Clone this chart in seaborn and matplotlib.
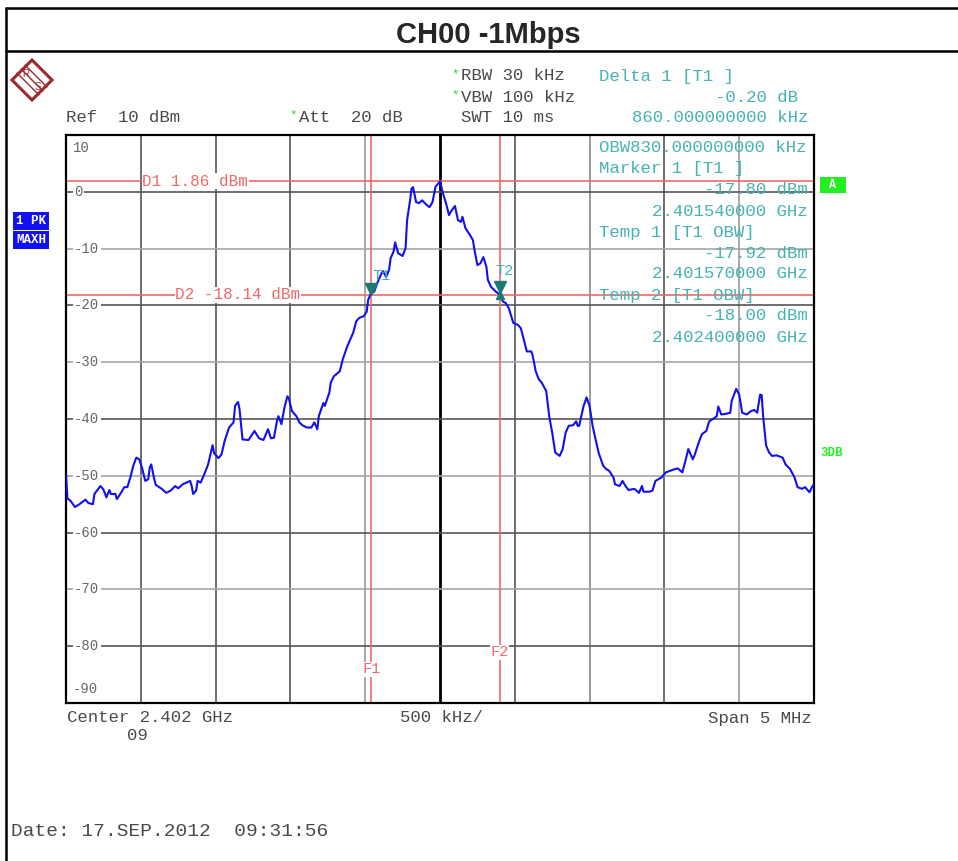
import numpy as np
import pandas as pd
import matplotlib
matplotlib.use('Agg')
import matplotlib.pyplot as plt
import seaborn as sns
from matplotlib.patches import Polygon
from matplotlib.lines import Line2D

sns.set_style('white')
plt.rcParams['font.family'] = ['Liberation Mono', 'DejaVu Sans Mono']

# analyzer settings
center_ghz = 2.402
span_mhz = 5.0
ref_dbm = 10
y_bottom = -90

# trace (frequency offset from center in MHz, level in dBm)
freq_mhz = [-2.50, -2.49, -2.47, -2.44, -2.41, -2.37, -2.35, -2.32, -2.31, -2.27,
            -2.25, -2.23, -2.21, -2.20, -2.17, -2.16, -2.13, -2.11, -2.09, -2.07,
            -2.05, -2.03, -2.01, -1.99, -1.97, -1.95, -1.94, -1.93, -1.91, -1.90,
            -1.86, -1.83, -1.80, -1.77, -1.75, -1.72, -1.67, -1.66, -1.65, -1.63,
            -1.62, -1.60, -1.58, -1.55, -1.52, -1.51, -1.48, -1.46, -1.44, -1.41,
            -1.38, -1.37, -1.35, -1.34, -1.32, -1.28, -1.24, -1.21, -1.18, -1.15,
            -1.13, -1.11, -1.09, -1.08, -1.06, -1.04, -1.02, -1.01, -0.99, -0.96,
            -0.94, -0.92, -0.89, -0.86, -0.84, -0.82, -0.81, -0.78, -0.77, -0.74,
            -0.73, -0.71, -0.67, -0.65, -0.62, -0.58, -0.56, -0.54, -0.51, -0.49,
            -0.48, -0.46, -0.44, -0.42, -0.39, -0.38, -0.36, -0.34, -0.33, -0.31,
            -0.30, -0.28, -0.25, -0.23, -0.22, -0.20, -0.19, -0.18, -0.16, -0.14,
            -0.12, -0.09, -0.07, -0.05, -0.03, 0.00, 0.02, 0.04, 0.06, 0.08,
            0.10, 0.12, 0.14, 0.15, 0.17, 0.20, 0.22, 0.23, 0.25, 0.27,
            0.29, 0.31, 0.32, 0.34, 0.37, 0.40, 0.42, 0.44, 0.46, 0.49,
            0.52, 0.54, 0.56, 0.58, 0.61, 0.62, 0.64, 0.66, 0.68, 0.71,
            0.73, 0.75, 0.77, 0.80, 0.82, 0.84, 0.86, 0.89, 0.91, 0.92,
            0.93, 0.96, 0.98, 1.00, 1.02, 1.04, 1.06, 1.09, 1.11, 1.13,
            1.16, 1.17, 1.20, 1.22, 1.24, 1.26, 1.30, 1.33, 1.35, 1.36,
            1.40, 1.42, 1.44, 1.46, 1.48, 1.51, 1.54, 1.56, 1.59, 1.62,
            1.64, 1.66, 1.69, 1.70, 1.73, 1.75, 1.78, 1.80, 1.83, 1.85,
            1.86, 1.88, 1.91, 1.94, 1.95, 1.98, 2.00, 2.02, 2.05, 2.08,
            2.10, 2.12, 2.14, 2.15, 2.16, 2.18, 2.20, 2.22, 2.25, 2.29,
            2.31, 2.34, 2.37, 2.39, 2.42, 2.44, 2.47, 2.49, 2.50]
level_dbm = [-49.7, -54.0, -54.4, -55.5, -55.0, -54.2, -54.8, -55.0, -53.2, -51.8,
             -52.4, -53.8, -52.5, -53.2, -53.2, -54.1, -52.9, -52.0, -52.0, -50.3,
             -48.2, -46.8, -47.1, -48.8, -50.9, -50.6, -48.5, -48.0, -50.6, -51.6,
             -52.3, -53.0, -52.6, -51.8, -52.2, -51.5, -50.9, -51.8, -53.2, -52.6,
             -50.9, -51.2, -50.0, -48.0, -44.6, -46.0, -46.9, -46.2, -43.9, -41.5,
             -40.6, -37.7, -37.0, -38.3, -43.6, -43.7, -42.1, -43.4, -43.7, -41.8,
             -43.4, -43.3, -40.4, -39.5, -40.9, -38.0, -36.0, -36.4, -38.6, -39.5,
             -40.6, -41.1, -41.5, -41.5, -40.6, -41.8, -39.5, -37.2, -37.7, -35.4,
             -33.6, -32.5, -31.6, -29.5, -27.2, -24.8, -22.8, -22.2, -21.9, -21.1,
             -19.0, -17.8, -17.6, -16.1, -14.3, -14.0, -15.0, -13.7, -11.7, -10.5,
             -8.9, -10.8, -11.3, -9.9, -5.0, -1.5, 0.6, 0.8, -1.8, -2.0,
             -1.5, -2.3, -2.7, -1.8, 0.9, 1.8, -0.3, -2.0, -4.1, -3.2,
             -2.5, -5.0, -5.3, -4.4, -6.4, -7.6, -8.5, -10.2, -12.9, -12.6,
             -11.5, -13.2, -15.5, -16.7, -17.5, -18.1, -19.3, -19.6, -20.5, -23.1,
             -23.4, -24.0, -26.0, -28.1, -28.1, -28.9, -31.6, -33.0, -33.6, -35.1,
             -39.5, -42.4, -45.9, -46.5, -45.3, -42.4, -41.2, -41.1, -40.4, -41.2,
             -41.2, -37.7, -36.2, -37.7, -41.2, -43.6, -45.9, -48.2, -48.8, -49.1,
             -50.3, -51.5, -51.8, -50.9, -51.8, -52.5, -52.3, -53.0, -51.8, -52.8,
             -52.8, -52.6, -50.9, -50.6, -50.3, -49.4, -49.1, -48.9, -48.7, -49.4,
             -47.4, -45.3, -47.1, -46.5, -44.1, -42.7, -42.1, -40.4, -39.9, -39.5,
             -37.8, -39.2, -39.1, -38.9, -36.8, -34.7, -35.7, -38.9, -39.2, -38.6,
             -38.4, -38.9, -35.7, -35.8, -39.5, -44.7, -45.9, -46.5, -46.4, -46.8,
             -48.0, -48.8, -50.3, -52.0, -52.3, -52.0, -52.9, -51.8, -51.5]

# display lines and markers
d1_dbm = 1.86
d2_dbm = -18.14
f1_ghz = 2.40154
f2_ghz = 2.4024
t1_ghz, t1_dbm = 2.40154, -17.80
t2_ghz, t2_dbm = 2.4024, -18.00
y_labels = [10, 0, -10, -20, -30, -40, -50, -60, -70, -80, -90]

df = pd.DataFrame({'freq': freq_mhz, 'level': level_dbm})

W, H = 958, 861
fig = plt.figure(figsize=(W / 100, H / 100), dpi=100)
fig.patch.set_facecolor('white')


def fx(x):
    return x / W


def fy(y):
    return 1 - y / H


ax = fig.add_axes([fx(66), fy(703), fx(814) - fx(66), fy(135) - fy(703)])
half = span_mhz / 2
ax.set_xlim(-half, half)
ax.set_ylim(y_bottom, ref_dbm)
ax.set_xticks([])
ax.set_yticks([])
for s in ax.spines.values():
    s.set_color('black')
    s.set_linewidth(1.6)

# graticule
vgrid = {-2.0: '#555555', -1.5: '#555555', -1.0: '#555555', -0.5: '#999999',
         0.5: '#555555', 1.0: '#8a8a8a', 1.5: '#555555', 2.0: '#999999'}
for xv, c in vgrid.items():
    ax.axvline(xv, color=c, lw=1.2, zorder=1)
ax.axvline(0, color='black', lw=2.0, zorder=1)
for yv in range(0, y_bottom, -10):
    c = '#555555' if (yv // 10) % 2 == 0 else '#a5a5a5'
    ax.axhline(yv, color=c, lw=1.2, zorder=1)

# y labels
lab_c = '#666666'
for v in y_labels:
    txt = str(v)
    if v == ref_dbm:
        ax.annotate(txt, xy=(0, v), xycoords=('axes fraction', 'data'), xytext=(7, -6),
                    textcoords='offset pixels', ha='left', va='top', fontsize=10, color=lab_c)
    elif v == y_bottom:
        ax.annotate(txt, xy=(0, v), xycoords=('axes fraction', 'data'), xytext=(7, 7),
                    textcoords='offset pixels', ha='left', va='bottom', fontsize=10, color=lab_c)
    else:
        ax.annotate(txt, xy=(0, v), xycoords=('axes fraction', 'data'), xytext=(8, 0),
                    textcoords='offset pixels', ha='left', va='center', fontsize=10, color=lab_c,
                    bbox=dict(facecolor='white', edgecolor='none', pad=1.0), zorder=3)

# display lines
red = '#f06868'
ax.axhline(d1_dbm, color=red, lw=1.2, zorder=2)
ax.axhline(d2_dbm, color=red, lw=1.2, zorder=2)
ax.text(-1.99, d1_dbm, 'D1 %.2f dBm' % d1_dbm, color=red, fontsize=11.5, ha='left', va='center',
        bbox=dict(facecolor='white', edgecolor='none', pad=0.5), zorder=3)
ax.text(-1.77, d2_dbm, 'D2 %.2f dBm' % d2_dbm, color=red, fontsize=11.5, ha='left', va='center',
        bbox=dict(facecolor='white', edgecolor='none', pad=0.5), zorder=3)
f1 = (f1_ghz - center_ghz) * 1000
f2 = (f2_ghz - center_ghz) * 1000
ax.axvline(f1, color=red, lw=1.2, zorder=2)
ax.axvline(f2, color=red, lw=1.2, zorder=2)
ax.text(f1, -84.1, 'F1', color=red, fontsize=11, ha='center', va='center',
        bbox=dict(facecolor='white', edgecolor='none', pad=0.3), zorder=3)
ax.text(f2, -81.1, 'F2', color=red, fontsize=11, ha='center', va='center',
        bbox=dict(facecolor='white', edgecolor='none', pad=0.3), zorder=3)

# trace
sns.lineplot(data=df, x='freq', y='level', color='#1010f0', lw=1.5, ax=ax, zorder=4,
             sort=False, estimator=None)
ax.set_xlabel('')
ax.set_ylabel('')

# markers
teal = '#45b3b3'
mk = '#1d7a72'
t1x = (t1_ghz - center_ghz) * 1000
t2x = (t2_ghz - center_ghz) * 1000
ax.plot([t1x], [t1_dbm + 0.7], marker='v', ms=9, color=mk, zorder=5)
ax.text(t1x + 0.01, t1_dbm + 3.0, 'T1', color=teal, fontsize=11, ha='left', va='center', zorder=5)
ax.plot([t2x], [t2_dbm + 1.2], marker='v', ms=8, color=mk, zorder=5)
ax.plot([t2x], [t2_dbm - 0.2], marker='^', ms=6, color=mk, zorder=5)
ax.text(t2x - 0.03, t2_dbm + 4.1, 'T2', color=teal, fontsize=11, ha='left', va='center', zorder=5)

# frame and title
fig.add_artist(Line2D([fx(6), 1], [fy(8), fy(8)], color='black', lw=1.8))
fig.add_artist(Line2D([fx(6), 1], [fy(51), fy(51)], color='black', lw=1.8))
fig.add_artist(Line2D([fx(6), fx(6)], [fy(8), 0], color='black', lw=1.8))
fig.text(fx(488), fy(35), 'CH00 -1Mbps', fontsize=21, fontweight='bold', ha='center', va='center',
         family=['Liberation Sans', 'DejaVu Sans'])

# R&S logo
cx, cy, r = 32, 80, 20
logo = Polygon([(fx(cx - r), fy(cy)), (fx(cx), fy(cy - r)), (fx(cx + r), fy(cy)), (fx(cx), fy(cy + r))],
               closed=True, fill=False, edgecolor='#9b2b2b', lw=2.2, transform=fig.transFigure)
fig.add_artist(logo)
for k in (-4, 0, 4):
    fig.add_artist(Line2D([fx(cx - 11 + k), fx(cx + 11 + k)], [fy(cy - 11 - k), fy(cy + 11 - k)],
                          color='#9b2b2b', lw=1.0))
fig.text(fx(cx - 6), fy(cy - 6), 'R', fontsize=7, color='#9b2b2b', ha='center', va='center',
         family=['Liberation Sans', 'DejaVu Sans'])
fig.text(fx(cx + 6), fy(cy + 7), 'S', fontsize=7, color='#9b2b2b', ha='center', va='center',
         family=['Liberation Sans', 'DejaVu Sans'])

# header settings
hdr = '#4a4a4a'
fs = 12.5
green = '#22dd22'
fig.text(fx(66), fy(117), 'Ref  10 dBm', fontsize=fs, color=hdr, va='center')
fig.text(fx(289), fy(115), '*', fontsize=9, color=green, va='center')
fig.text(fx(299), fy(117), 'Att  20 dB', fontsize=fs, color=hdr, va='center')
fig.text(fx(451), fy(74), '*', fontsize=9, color=green, va='center')
fig.text(fx(461), fy(76), 'RBW 30 kHz', fontsize=fs, color=hdr, va='center')
fig.text(fx(451), fy(95), '*', fontsize=9, color=green, va='center')
fig.text(fx(461), fy(97), 'VBW 100 kHz', fontsize=fs, color=hdr, va='center')
fig.text(fx(461), fy(117), 'SWT 10 ms', fontsize=fs, color=hdr, va='center')
fig.text(fx(599), fy(76), 'Delta 1 [T1 ]', fontsize=fs, color=teal, va='center')
fig.text(fx(798), fy(97), '-0.20 dB', fontsize=fs, color=teal, va='center', ha='right')
fig.text(fx(808), fy(117), '860.000000000 kHz', fontsize=fs, color=teal, va='center', ha='right')

# marker info block
info = [('OBW830.000000000 kHz', 'left', 148),
        ('Marker 1 [T1 ]', 'left', 169),
        ('-17.80 dBm', 'right', 190),
        ('2.401540000 GHz', 'right', 211),
        ('Temp 1 [T1 OBW]', 'left', 232),
        ('-17.92 dBm', 'right', 253),
        ('2.401570000 GHz', 'right', 274),
        ('Temp 2 [T1 OBW]', 'left', 295),
        ('-18.00 dBm', 'right', 316),
        ('2.402400000 GHz', 'right', 337)]
for s, al, yy in info:
    xx = 599 if al == 'left' else 808
    fig.text(fx(xx), fy(yy), s, fontsize=fs, color=teal, va='center', ha=al)

# side badges
fig.text(fx(31), fy(221), '1 PK', fontsize=9, color='white', fontweight='bold', ha='center', va='center',
         bbox=dict(facecolor='#1010f0', edgecolor='none', pad=2.0))
fig.text(fx(31), fy(240), 'MAXH', fontsize=9, color='white', fontweight='bold', ha='center', va='center',
         bbox=dict(facecolor='#1010f0', edgecolor='none', pad=2.0))
fig.text(fx(833), fy(185), ' A ', fontsize=8.5, color='white', fontweight='bold', ha='center', va='center',
         bbox=dict(facecolor='#22ee22', edgecolor='none', pad=1.8))
fig.text(fx(820), fy(453), '3DB', fontsize=9, color='#22ee22', fontweight='bold', ha='left', va='center')

# footer
fig.text(fx(67), fy(718), 'Center %.3f GHz' % center_ghz, fontsize=fs, color=hdr, va='center')
fig.text(fx(127), fy(735), '09', fontsize=fs, color=hdr, va='center')
fig.text(fx(400), fy(718), '500 kHz/', fontsize=fs, color=hdr, va='center')
fig.text(fx(812), fy(718), 'Span %g MHz' % span_mhz, fontsize=fs, color=hdr, va='center', ha='right')
fig.text(fx(11), fy(831), 'Date: 17.SEP.2012  09:31:56', fontsize=14, color=hdr, va='center')

fig.savefig('out.png', dpi=100)
